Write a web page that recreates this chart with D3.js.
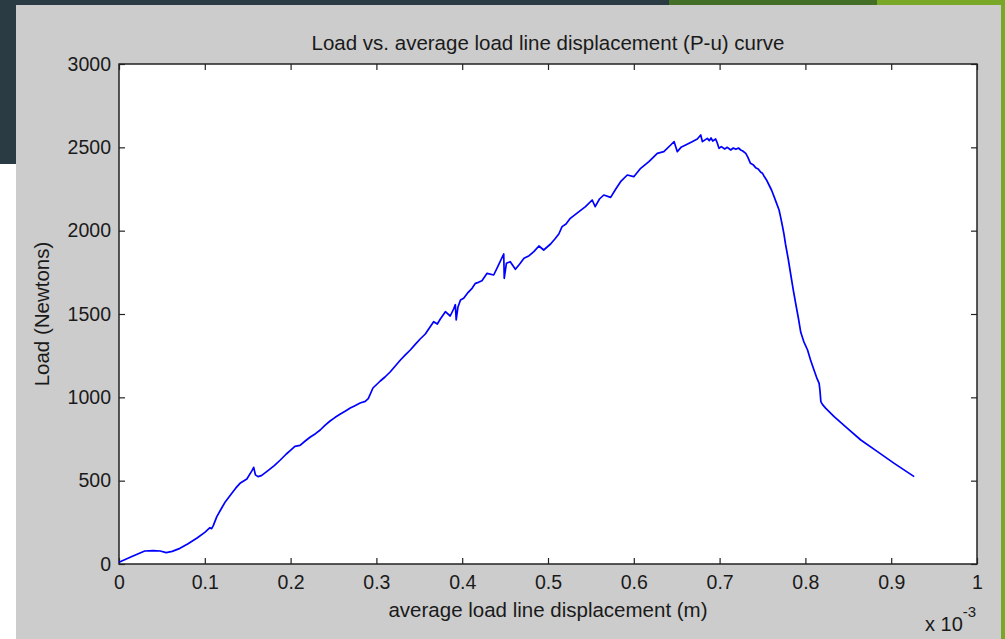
<!DOCTYPE html>
<html>
<head>
<meta charset="utf-8">
<script src="https://cdn.jsdelivr.net/npm/d3@7"></script>
<style>
  html, body { margin: 0; padding: 0; background: #ffffff; }
  svg { display: block; }
  text { font-family: "Liberation Sans", Arial, sans-serif; fill: #1a1a1a; }
</style>
</head>
<body>
<svg id="chart" width="1005" height="639"></svg>
<script>
// Average load line displacement (x 10^-3 m)
const displacement = [
  0, 0.015, 0.030, 0.040, 0.048, 0.055, 0.062, 0.071, 0.080, 0.091,
  0.100, 0.106, 0.108, 0.110, 0.114, 0.119, 0.124, 0.1315, 0.136, 0.141,
  0.149, 0.155, 0.157, 0.159, 0.162, 0.166, 0.174, 0.181, 0.188, 0.195,
  0.1995, 0.205, 0.211, 0.217, 0.223, 0.229, 0.2345, 0.240, 0.246, 0.252,
  0.258, 0.264, 0.2695, 0.275, 0.281, 0.287, 0.2905, 0.296, 0.3045, 0.310,
  0.316, 0.322, 0.328, 0.334, 0.3395, 0.345, 0.351, 0.357, 0.3667, 0.371,
  0.3745, 0.3804, 0.386, 0.390, 0.392, 0.393, 0.395, 0.398, 0.4017, 0.407,
  0.4115, 0.4154, 0.419, 0.423, 0.429, 0.4367, 0.442, 0.4484, 0.449, 0.4515,
  0.456, 0.462, 0.467, 0.472, 0.478, 0.4835, 0.4894, 0.495, 0.503, 0.508,
  0.5126, 0.5164, 0.521, 0.526, 0.535, 0.5437, 0.5515, 0.555, 0.560, 0.565,
  0.573, 0.579, 0.5846, 0.5924, 0.600, 0.608, 0.6176, 0.6274, 0.635, 0.643,
  0.647, 0.6507, 0.655, 0.6604, 0.668, 0.674, 0.678, 0.680, 0.6857, 0.688,
  0.690, 0.692, 0.6954, 0.697, 0.6993, 0.702, 0.706, 0.709, 0.713, 0.716,
  0.719, 0.722, 0.7246, 0.727, 0.7305, 0.733, 0.736, 0.739, 0.742, 0.745,
  0.748, 0.750, 0.7515, 0.7545, 0.7576, 0.7605, 0.7635, 0.766, 0.7693, 0.771,
  0.773, 0.775, 0.777, 0.780, 0.783, 0.786, 0.789, 0.792, 0.7946, 0.798,
  0.8025, 0.806, 0.810, 0.813, 0.816, 0.817, 0.818, 0.820, 0.8238, 0.8335,
  0.849, 0.8646, 0.884, 0.9035, 0.9268
];

// Load (Newtons)
const load = [
  10, 45, 78, 80, 78, 68, 76, 94, 120, 156,
  190, 218, 212, 232, 284, 330, 374, 424, 455, 484,
  510, 560, 580, 535, 524, 530, 562, 590, 624, 660,
  680, 706, 712, 738, 762, 782, 804, 832, 858, 880,
  900, 918, 936, 950, 966, 976, 992, 1056, 1098, 1122,
  1152, 1188, 1224, 1256, 1284, 1316, 1350, 1380, 1454, 1440,
  1470, 1514, 1488, 1530, 1556, 1464, 1540, 1584, 1594, 1630,
  1654, 1684, 1690, 1700, 1744, 1734, 1790, 1860, 1714, 1804,
  1814, 1768, 1800, 1834, 1850, 1874, 1908, 1884, 1920, 1950,
  1980, 2024, 2040, 2074, 2110, 2144, 2184, 2144, 2190, 2214,
  2200, 2250, 2294, 2334, 2324, 2374, 2414, 2464, 2474, 2514,
  2534, 2474, 2500, 2514, 2534, 2550, 2574, 2534, 2554, 2540,
  2556, 2538, 2550, 2530, 2494, 2504, 2490, 2500, 2484, 2496,
  2488, 2496, 2484, 2478, 2464, 2440, 2404, 2396, 2378, 2370,
  2350, 2344, 2330, 2306, 2274, 2244, 2204, 2170, 2124, 2084,
  2034, 1980, 1914, 1830, 1734, 1640, 1554, 1470, 1390, 1336,
  1284, 1224, 1164, 1120, 1084, 1040, 974, 956, 934, 884,
  814, 744, 674, 604, 524
];

const xTicks = [0, 0.1, 0.2, 0.3, 0.4, 0.5, 0.6, 0.7, 0.8, 0.9, 1];
const yTicks = [0, 500, 1000, 1500, 2000, 2500, 3000];

const titleText = "Load vs. average load line displacement (P-u) curve";
const xLabelText = "average load line displacement (m)";
const yLabelText = "Load (Newtons)";

const svg = d3.select("#chart");

// Window frame around the figure
svg.append("rect").attr("x", 0).attr("y", 0).attr("width", 16).attr("height", 164).attr("fill", "#2b3b43");
svg.append("rect").attr("x", 0).attr("y", 0).attr("width", 669).attr("height", 5).attr("fill", "#2b3b43");
svg.append("rect").attr("x", 669).attr("y", 0).attr("width", 208).attr("height", 5).attr("fill", "#436e25");
svg.append("rect").attr("x", 877).attr("y", 0).attr("width", 128).attr("height", 5).attr("fill", "#79a829");
svg.append("rect").attr("x", 1001).attr("y", 0).attr("width", 4).attr("height", 639).attr("fill", "#79a829");

// Figure background
svg.append("rect").attr("x", 16).attr("y", 5).attr("width", 985).attr("height", 634).attr("fill", "#cccccc");

const plotLeft = 119, plotRight = 977, plotTop = 64, plotBottom = 564;

const x = d3.scaleLinear().domain([0, 1]).range([plotLeft, plotRight]);
const y = d3.scaleLinear().domain([0, 3000]).range([plotBottom, plotTop]);

// Axes area
svg.append("rect").attr("x", plotLeft).attr("y", plotTop)
  .attr("width", plotRight - plotLeft).attr("height", plotBottom - plotTop)
  .attr("fill", "#ffffff");

const tickLen = 6;
const fmtX = d => (d === 0 || d === 1) ? String(d) : d.toFixed(1);

const axisBottom = d3.axisBottom(x).tickValues(xTicks).tickSizeInner(-tickLen).tickSizeOuter(0).tickPadding(11).tickFormat(fmtX);
const axisTop = d3.axisTop(x).tickValues(xTicks).tickSizeInner(-tickLen).tickSizeOuter(0).tickFormat("");
const axisLeft = d3.axisLeft(y).tickValues(yTicks).tickSizeInner(-tickLen).tickSizeOuter(0).tickPadding(8).tickFormat(d3.format("d"));
const axisRight = d3.axisRight(y).tickValues(yTicks).tickSizeInner(-tickLen).tickSizeOuter(0).tickFormat("");

function styleAxis(g) {
  g.select(".domain").remove();
  g.selectAll(".tick line").attr("stroke", "#222").attr("stroke-width", 1.2);
  g.selectAll(".tick text")
    .attr("font-family", "Liberation Sans, Arial, sans-serif")
    .attr("font-size", 19.5).attr("fill", "#1a1a1a");
}

svg.append("g").attr("transform", `translate(0,${plotBottom})`).call(axisBottom).call(styleAxis);
svg.append("g").attr("transform", `translate(0,${plotTop})`).call(axisTop).call(styleAxis);
svg.append("g").attr("transform", `translate(${plotLeft},0)`).call(axisLeft).call(styleAxis);
svg.append("g").attr("transform", `translate(${plotRight},0)`).call(axisRight).call(styleAxis);

// Box
svg.append("rect").attr("x", plotLeft).attr("y", plotTop)
  .attr("width", plotRight - plotLeft).attr("height", plotBottom - plotTop)
  .attr("fill", "none").attr("stroke", "#222").attr("stroke-width", 1.5);

// P-u curve
const pts = displacement.map((d, i) => [d, load[i]]);
const line = d3.line().x(d => x(d[0])).y(d => y(d[1]));
svg.append("path").datum(pts)
  .attr("d", line)
  .attr("fill", "none")
  .attr("stroke", "#0000ff")
  .attr("stroke-width", 1.7)
  .attr("stroke-linejoin", "round");

// Title and labels
svg.append("text").attr("x", (plotLeft + plotRight) / 2).attr("y", 50)
  .attr("text-anchor", "middle").attr("font-size", 20.5).text(titleText);

svg.append("text").attr("x", (plotLeft + plotRight) / 2).attr("y", 617)
  .attr("text-anchor", "middle").attr("font-size", 20.5).text(xLabelText);

svg.append("text")
  .attr("transform", `translate(49,${(plotTop + plotBottom) / 2}) rotate(-90)`)
  .attr("text-anchor", "middle").attr("font-size", 20.5).text(yLabelText);

// Exponent multiplier for the x axis
const mult = svg.append("text").attr("x", 925).attr("y", 631).attr("font-size", 20);
mult.append("tspan").text("x 10");
mult.append("tspan").attr("dy", -14).attr("font-size", 15).text("-3");
</script>
</body>
</html>
